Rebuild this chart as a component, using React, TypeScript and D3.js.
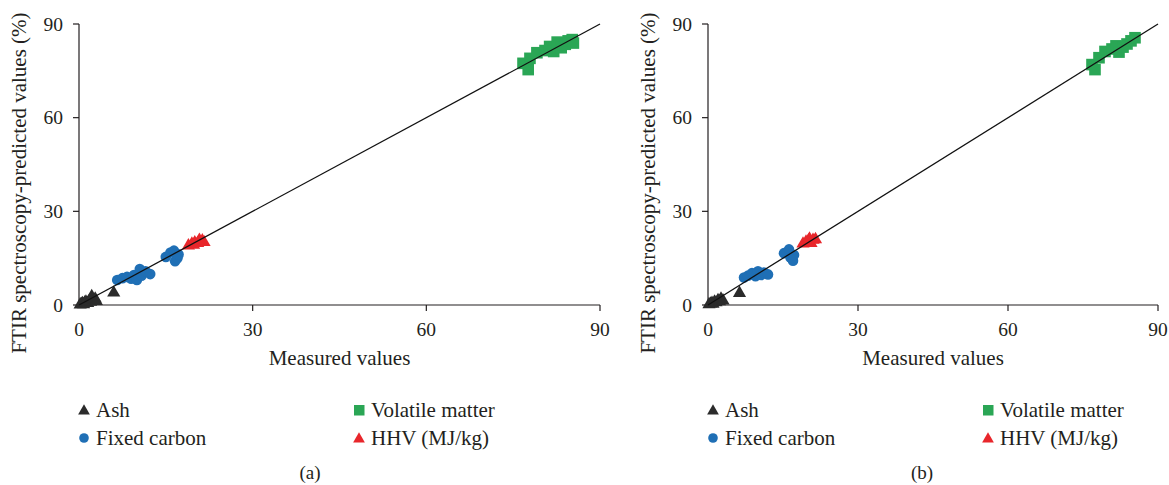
import React from "react";
import * as d3 from "d3";

const ticks = [0, 30, 60, 90];
const seriesNames = ["Ash", "Fixed carbon", "Volatile matter", "HHV (MJ/kg)"];
const seriesColors = ["#2b2b2b", "#1f6fb5", "#2aa655", "#e8262b"];

// panel (a)
const ashA: [number, number][] = [[0.2,0.1],[0.4,0.3],[0.6,0.5],[0.8,0.2],[1.0,0.8],[1.2,1.0],[1.5,0.6],[1.8,1.4],[2.0,1.0],[2.4,1.6],[2.2,2.8],[2.8,2.0],[3.0,1.2],[6.0,3.9]];
const fixedA: [number, number][] = [[6.6,8.0],[7.5,8.6],[8.3,9.0],[9.0,8.4],[9.5,9.6],[10.0,8.0],[10.5,11.5],[10.8,9.4],[11.5,10.8],[12.3,9.9],[15.0,15.4],[15.8,16.8],[16.4,17.4],[16.6,14.0],[17.0,15.0],[17.2,16.2]];
const volA: [number, number][] = [[76.7,77.4],[77.6,75.4],[77.9,79.0],[79.1,80.8],[80.5,81.5],[81.3,82.8],[82.0,81.2],[82.6,84.2],[83.3,82.4],[84.0,83.5],[84.5,84.6],[85.2,85.0],[85.4,83.9]];
const hhvA: [number, number][] = [[18.9,19.0],[19.5,19.6],[20.0,20.0],[20.5,19.8],[20.8,20.8],[21.3,20.6],[21.6,20.1],[19.8,19.2]];

// panel (b)
const ashB: [number, number][] = [[0.2,0.2],[0.5,0.4],[0.8,0.6],[1.0,0.3],[1.3,1.0],[1.6,0.8],[2.0,1.5],[2.3,1.1],[2.6,2.0],[3.0,1.4],[6.3,3.8]];
const fixedB: [number, number][] = [[7.2,8.8],[8.0,9.4],[8.8,10.2],[9.5,9.2],[10.0,10.8],[10.6,9.6],[11.2,10.4],[12.0,9.8],[15.2,16.6],[16.2,17.8],[16.5,15.2],[17.0,14.2],[17.2,16.0]];
const volB: [number, number][] = [[76.8,77.0],[77.4,75.4],[78.2,79.2],[79.4,81.2],[80.8,82.0],[81.6,83.0],[82.2,81.0],[83.0,82.6],[83.8,83.6],[84.6,84.6],[85.4,85.6]];
const hhvB: [number, number][] = [[19.0,19.6],[19.6,20.2],[20.1,20.6],[20.6,19.8],[21.0,20.8],[21.5,21.0],[20.3,21.2]];

type P = [number, number][];

function Panel({ x0, x1, ash, fixed, vol, hhv, label, legendX, legend2X, labelX }: { x0: number; x1: number; ash: P; fixed: P; vol: P; hhv: P; label: string; legendX: number; legend2X: number; labelX: number }) {
  const y0 = 305, y1 = 24;
  const xs = d3.scaleLinear().domain([0, 90]).range([x0, x1]);
  const ys = d3.scaleLinear().domain([0, 90]).range([y0, y1]);
  const tri = d3.symbol(d3.symbolTriangle, 75)()!;
  const sq = d3.symbol(d3.symbolSquare, 135)()!;
  const font = "'Liberation Serif', 'Times New Roman', serif";
  const tc = "#231f20";
  return (
    <g fontFamily={font} fill={tc}>
      {/* axes */}
      <line x1={x0} x2={x0} y1={y1} y2={y0} stroke={tc} strokeWidth={1.2} />
      <line x1={x0} x2={x1} y1={y0} y2={y0} stroke={tc} strokeWidth={1.2} />
      {ticks.map((t) => (
        <g key={"y" + t}>
          <line x1={x0 - 6} x2={x0} y1={ys(t)} y2={ys(t)} stroke={tc} strokeWidth={1.2} />
          <text x={x0 - 16} y={ys(t)} dy="0.35em" textAnchor="end" fontSize={19.5}>{t}</text>
        </g>
      ))}
      {ticks.map((t) => (
        <g key={"x" + t}>
          {t > 0 && <line x1={xs(t)} x2={xs(t)} y1={y0} y2={y0 + 6} stroke={tc} strokeWidth={1.2} />}
          <text x={xs(t)} y={y0 + 31} textAnchor="middle" fontSize={19.5}>{t}</text>
        </g>
      ))}
      <text x={(x0 + x1) / 2} y={365} textAnchor="middle" fontSize={21}>Measured values</text>
      <text transform={`translate(${x0 - 53},${183}) rotate(-90)`} textAnchor="middle" fontSize={21}>FTIR spectroscopy-predicted values (%)</text>
      {/* points */}
      {fixed.map((d, i) => <circle key={"f" + i} cx={xs(d[0])} cy={ys(d[1])} r={5.3} fill={seriesColors[1]} />)}
      {vol.map((d, i) => <path key={"v" + i} d={sq} transform={`translate(${xs(d[0])},${ys(d[1])})`} fill={seriesColors[2]} />)}
      {hhv.map((d, i) => <path key={"h" + i} d={tri} transform={`translate(${xs(d[0])},${ys(d[1])})`} fill={seriesColors[3]} />)}
      {ash.map((d, i) => <path key={"a" + i} d={tri} transform={`translate(${xs(d[0])},${ys(d[1])})`} fill={seriesColors[0]} />)}
      {/* 1:1 line */}
      <line x1={xs(0)} y1={ys(0)} x2={xs(90)} y2={ys(90)} stroke="#111" strokeWidth={1.3} />
      {/* legend */}
      <g fontSize={21}>
        <path d={d3.symbol(d3.symbolTriangle, 60)()!} transform={`translate(${legendX},${411})`} fill={seriesColors[0]} />
        <text x={legendX + 12} y={417}>{seriesNames[0]}</text>
        <circle cx={legendX} cy={438} r={4.8} fill={seriesColors[1]} />
        <text x={legendX + 12} y={445}>{seriesNames[1]}</text>
        <rect x={legend2X - 5} y={405} width={10.5} height={10.5} fill={seriesColors[2]} />
        <text x={legend2X + 12} y={417}>{seriesNames[2]}</text>
        <path d={d3.symbol(d3.symbolTriangle, 60)()!} transform={`translate(${legend2X},${439})`} fill={seriesColors[3]} />
        <text x={legend2X + 12} y={445}>{seriesNames[3]}</text>
      </g>
      <text x={labelX} y={479} textAnchor="middle" fontSize={19}>{label}</text>
    </g>
  );
}

export default function App() {
  return (
    <svg width={1169} height={485} style={{ position: "absolute", left: 0, top: 0, background: "#fff" }}>
      <rect width={1169} height={485} fill="#fff" />
      <Panel x0={79} x1={600} ash={ashA} fixed={fixedA} vol={volA} hhv={hhvA} label="(a)" legendX={84} legend2X={359} labelX={310} />
      <Panel x0={708} x1={1158} ash={ashB} fixed={fixedB} vol={volB} hhv={hhvB} label="(b)" legendX={713} legend2X={988} labelX={922} />
    </svg>
  );
}
